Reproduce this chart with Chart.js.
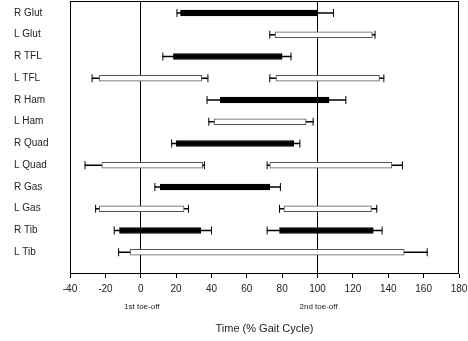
<!DOCTYPE html>
<html>
<head>
<meta charset="utf-8">
<script src="https://cdn.jsdelivr.net/npm/chart.js@4/dist/chart.umd.min.js"></script>
<style>
  html, body { margin: 0; padding: 0; background: #fff; }
  #wrap { position: relative; width: 468px; height: 341px; }
</style>
</head>
<body>
<div id="wrap"><canvas id="chart"></canvas></div>
<script>
// muscles, top to bottom
const muscles = ["R Glut", "L Glut", "R TFL", "L TFL", "R Ham", "L Ham", "R Quad", "L Quad", "R Gas", "L Gas", "R Tib", "L Tib"];

// first burst of activity (% gait cycle) and its error whiskers
const onset1 = [22.5, 76, 18.5, -23.5, 45, 41.5, 20, -22, 11, -23.5, -12, -6];
const offset1 = [100, 131, 80, 34.5, 106.5, 93.5, 86.5, 35, 73, 24.5, 34, 149];
const whiskLo1 = [20.5, 73, 12.5, -27.5, 37.5, 38.5, 17.5, -31.5, 8, -25.5, -15, -12.5];
const whiskHi1 = [109, 132.5, 85, 38, 116, 97.5, 90, 36, 79, 27, 40, 162];

// second burst (only some muscles)
const onset2 = [null, null, null, 76.5, null, null, null, 73, null, 81, 78.5, null];
const offset2 = [null, null, null, 135, null, null, null, 142, null, 130.5, 131.5, null];
const whiskLo2 = [null, null, null, 73, null, null, null, 71.5, null, 78.5, 71.5, null];
const whiskHi2 = [null, null, null, 137.5, null, null, null, 148, null, 133.5, 136.5, null];

const xTicksMin = -40, xTicksMax = 180, xStep = 20;
const markers = [{ value: 0, text: "1st toe-off" }, { value: 100, text: "2nd toe-off" }];

const FONT = "'Liberation Sans', Arial, sans-serif";

function rows(a, b) {
  const out = [];
  muscles.forEach((m, i) => {
    if (a[i] != null && b[i] != null) out.push({ y: i, x: [a[i], b[i]] });
  });
  return out;
}

const caps = [];
[[whiskLo1, whiskHi1], [whiskLo2, whiskHi2]].forEach(([lo, hi]) => {
  muscles.forEach((m, i) => {
    if (lo[i] != null) caps.push({ x: lo[i], y: i });
    if (hi[i] != null) caps.push({ x: hi[i], y: i });
  });
});

const fillFor = (ctx) => (muscles[ctx.raw.y][0] === "R" ? "#000" : "#fff");
const edgeFor = (ctx) => (muscles[ctx.raw.y][0] === "R" ? "#000" : "#555");

const barStyle = {
  type: "bar",
  indexAxis: "y",
  grouped: false,
  barThickness: 6,
  borderWidth: 1,
  borderSkipped: false,
  backgroundColor: fillFor,
  borderColor: edgeFor,
  order: 1,
};
const whiskStyle = {
  type: "bar",
  indexAxis: "y",
  grouped: false,
  barThickness: 1,
  borderWidth: 0,
  backgroundColor: "#000",
  order: 3,
};

const frame = {
  id: "frame",
  afterDraw(chart) {
    const { ctx, chartArea: a } = chart;
    const xs = chart.scales.x;
    ctx.save();
    ctx.strokeStyle = "#000";
    ctx.lineWidth = 1;
    ctx.strokeRect(Math.round(a.left) + 0.5, Math.round(a.top) + 0.5,
      Math.round(a.right - a.left) - 1, Math.round(a.bottom - a.top) - 1);
    ctx.fillStyle = "#222";
    ctx.font = "8px " + FONT;
    ctx.textAlign = "center";
    ctx.textBaseline = "middle";
    markers.forEach((mk) => {
      ctx.fillText(mk.text, xs.getPixelForValue(mk.value) + 1, a.bottom + 33);
    });
    ctx.restore();
  },
};

new Chart(document.getElementById("chart"), {
  data: {
    datasets: [
      Object.assign({ data: rows(onset1, offset1) }, barStyle),
      Object.assign({ data: rows(onset2, offset2) }, barStyle),
      Object.assign({ data: rows(whiskLo1, whiskHi1) }, whiskStyle),
      Object.assign({ data: rows(whiskLo2, whiskHi2) }, whiskStyle),
      {
        type: "scatter",
        data: caps,
        pointStyle: "line",
        rotation: 90,
        radius: 4,
        borderWidth: 1,
        borderColor: "#000",
        backgroundColor: "#000",
        order: 0,
      },
    ],
  },
  options: {
    responsive: true,
    maintainAspectRatio: false,
    animation: false,
    layout: { autoPadding: false, padding: { left: 14, right: 9, top: 1, bottom: 0 } },
    plugins: { legend: { display: false }, tooltip: { enabled: false } },
    scales: {
      x: {
        type: "linear",
        position: "bottom",
        min: xTicksMin,
        max: xTicksMax,
        offset: false,
        ticks: { stepSize: xStep, color: "#222", font: { family: FONT, size: 10 }, padding: 5, maxRotation: 0 },
        grid: {
          offset: false,
          color: (c) => (c.tick && (c.tick.value === 0 || c.tick.value === 100) ? "#000" : "rgba(0,0,0,0)"),
          tickColor: "#000",
          tickLength: 4,
          lineWidth: 1,
        },
        border: { display: false },
        title: {
          display: true,
          text: "Time (% Gait Cycle)",
          color: "#222",
          font: { family: FONT, size: 11 },
          padding: { top: 0, bottom: 5 },
        },
        afterFit: (s) => { s.height = 67; s.paddingLeft = 0; s.paddingRight = 0; },
      },
      y: {
        type: "linear",
        reverse: true,
        min: -0.55,
        max: 12,
        offset: false,
        afterBuildTicks: (s) => { s.ticks = muscles.map((m, i) => ({ value: i })); },
        ticks: {
          callback: (v) => muscles[v],
          color: "#222",
          font: { family: FONT, size: 10 },
          crossAlign: "far",
          autoSkip: false,
        },
        grid: { display: false, offset: false },
        border: { display: false },
        afterFit: (s) => { s.width = 56; s.paddingTop = 0; s.paddingBottom = 0; },
      },
    },
  },
  plugins: [frame],
});
</script>
</body>
</html>
